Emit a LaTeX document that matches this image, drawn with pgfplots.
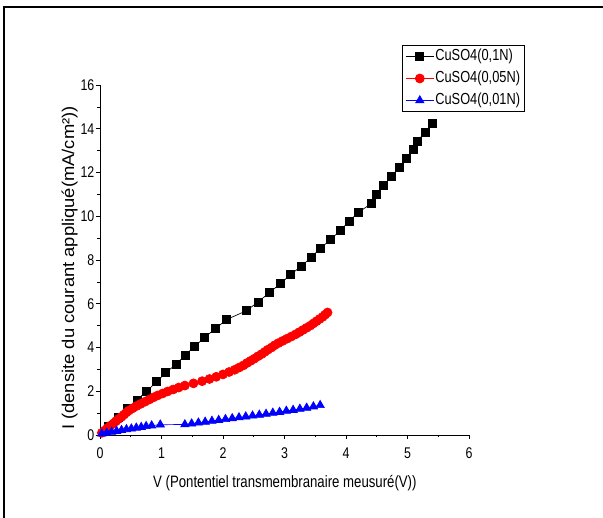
\documentclass[border=0pt]{standalone}
\usepackage{fontspec}
\setmainfont{Liberation Sans}[FakeStretch=0.8]
\usepackage{pgfplots}
\pgfplotsset{compat=1.18}

\begin{document}
\begin{tikzpicture}
\useasboundingbox (0pt,0pt) rectangle (603pt,-518pt);
\draw[line width=1.8pt] (4pt,-518pt) -- (4pt,-7pt) -- (603pt,-7pt);
\begin{axis}[
  at={(100pt,-435pt)}, anchor=south west,
  scale only axis, width=369pt, height=350pt,
  xmin=0, xmax=6, ymin=0, ymax=16,
  axis x line=bottom, axis y line=left,
  axis line style={-, line width=0.7pt},
  xtick={0,1,2,3,4,5,6}, ytick={0,2,4,6,8,10,12,14,16},
  minor x tick num=1, minor y tick num=1,
  tick align=outside,
  major tick length=4pt, minor tick length=2.5pt,
  tick style={black, line width=0.6pt},
  /pgf/number format/assume math mode=true,
  tick label style={font=\fontsize{15.5}{17}\selectfont},
  yticklabel style={inner sep=1.5pt},
  xticklabel style={yshift=-5pt},
  xlabel={V (Pontentiel transmembranaire meusuré(V))},
  xlabel style={at={(axis description cs:0.501,-0.137)}, anchor=center,
    font=\fontsize{16.5}{18}\selectfont},
  ylabel={\scalebox{1.35}[1]{I (densite du courant appliqué(mA/cm²))}},
  ylabel style={at={(axis description cs:-0.082,0.477)}, anchor=center,
    font=\fontsize{17}{19}\selectfont},
  legend cell align=left,
  legend image code/.code={
    \draw[#1, mark repeat=2, mark phase=2]
      plot coordinates {(0cm,0cm) (0.5cm,0cm) (1cm,0cm)};},
  legend style={at={(axis description cs:0.818,1.114)}, anchor=north west,
    draw=black, line width=0.8pt, inner sep=3pt, row sep=6pt,
    font=\fontsize{16}{18}\selectfont,
    nodes={inner sep=1pt, text height=11pt, text depth=3pt}},
]
\addplot[black, line width=0.7pt, mark=square*, mark size=4pt,
  mark options={solid, fill=black}] coordinates {
  (0.135,0.38) (0.30,0.81) (0.45,1.20) (0.60,1.60) (0.76,2.00)
  (0.92,2.43) (1.07,2.85) (1.24,3.24) (1.38,3.64) (1.54,4.05)
  (1.70,4.46) (1.88,4.87) (2.06,5.28) (2.38,5.68) (2.57,6.08)
  (2.75,6.50) (2.94,6.93) (3.10,7.34) (3.28,7.73) (3.44,8.14)
  (3.59,8.55) (3.75,8.93) (3.91,9.36) (4.05,9.77) (4.20,10.17)
  (4.41,10.58) (4.49,10.99) (4.61,11.40) (4.73,11.81) (4.86,12.22)
  (4.98,12.63) (5.09,13.05) (5.16,13.44) (5.29,13.85) (5.40,14.26)
};
\addlegendentry{CuSO4(0,1N)}
\addplot[red, line width=0.7pt, mark=*, mark size=4.5pt,
  mark options={solid, fill=red, draw=red}] coordinates {
  (0.03,0.10) (0.08,0.21) (0.12,0.32) (0.17,0.43) (0.22,0.53)
  (0.26,0.63) (0.30,0.73) (0.35,0.83) (0.39,0.93) (0.43,1.03)
  (0.47,1.12) (0.53,1.22) (0.59,1.32) (0.66,1.42) (0.73,1.52)
  (0.80,1.62) (0.87,1.72) (0.94,1.81) (1.02,1.90) (1.10,1.99)
  (1.19,2.08) (1.28,2.17) (1.38,2.26) (1.52,2.36) (1.66,2.46)
  (1.78,2.56) (1.89,2.66) (2.00,2.77) (2.10,2.88) (2.19,2.98)
  (2.26,3.08) (2.33,3.18) (2.39,3.29) (2.45,3.39) (2.51,3.49)
  (2.57,3.60) (2.63,3.70) (2.68,3.80) (2.73,3.90) (2.79,4.00)
  (2.84,4.10) (2.90,4.20) (2.97,4.30) (3.04,4.40) (3.11,4.50)
  (3.18,4.60) (3.24,4.70) (3.30,4.80) (3.36,4.90) (3.42,5.00)
  (3.47,5.10) (3.52,5.20) (3.57,5.30) (3.62,5.40) (3.66,5.50)
  (3.70,5.60)
};
\addlegendentry{CuSO4(0,05N)}
\addplot[blue, line width=0.7pt, mark=triangle*, mark size=4.8pt,
  mark options={solid, fill=blue, draw=blue}] coordinates {
  (0.03,0.06) (0.11,0.10) (0.19,0.14) (0.27,0.18) (0.35,0.22)
  (0.43,0.26) (0.51,0.29) (0.59,0.33) (0.67,0.36) (0.75,0.40)
  (0.84,0.43) (0.98,0.47)
  (1.38,0.48) (1.49,0.52) (1.60,0.56) (1.71,0.60) (1.82,0.64)
  (1.93,0.68) (2.04,0.72) (2.15,0.76) (2.26,0.80) (2.37,0.84)
  (2.48,0.88) (2.59,0.92) (2.70,0.96) (2.81,1.01) (2.92,1.05)
  (3.03,1.10) (3.14,1.14) (3.25,1.19) (3.36,1.24) (3.47,1.30)
  (3.58,1.36)
};
\addlegendentry{CuSO4(0,01N)}
\end{axis}
\end{tikzpicture}
\end{document}
